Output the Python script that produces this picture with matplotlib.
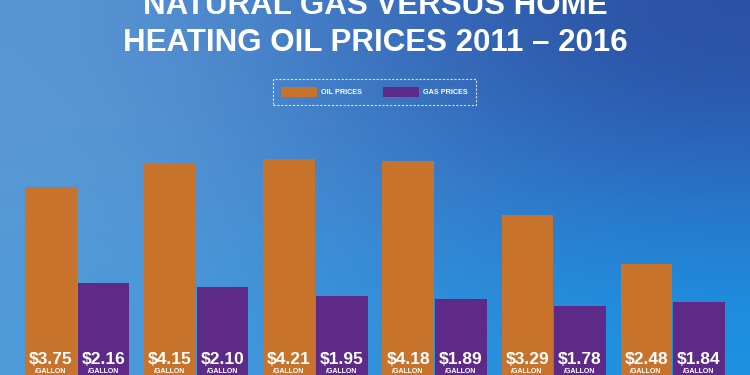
import matplotlib
matplotlib.use("Agg")
import matplotlib.pyplot as plt
import matplotlib.transforms as mtransforms
from matplotlib.patches import Patch
import numpy as np

years = ["2011", "2012", "2013", "2014", "2015", "2016"]
oil_prices = [3.75, 4.15, 4.21, 4.18, 3.29, 2.48]
gas_prices = [2.16, 2.10, 1.95, 1.89, 1.78, 1.84]
oil_labels = ["$3.75", "$4.15", "$4.21", "$4.18", "$3.29", "$2.48"]
gas_labels = ["$2.16", "$2.10", "$1.95", "$1.89", "$1.78", "$1.84"]
unit_label = "/GALLON"
title_lines = ["NATURAL GAS VERSUS HOME", "HEATING OIL PRICES 2011 \u2013 2016"]
legend_labels = ["OIL PRICES", "GAS PRICES"]

OIL = "#c8732b"
GAS = "#5e2a88"
FONT = ["Liberation Sans", "DejaVu Sans"]

fig = plt.figure(figsize=(7.5, 3.75), dpi=100)

# background gradient
bg = fig.add_axes([0, 0, 1, 1], zorder=0)
grid_hex = [["#5a96d4", "#3b72c0", "#2a4fa2"],
            ["#5a9ad6", "#3c82cc", "#2a70c6"],
            ["#509bd9", "#3090dc", "#1c92e2"]]
grid = np.array([[matplotlib.colors.to_rgb(c) for c in row] for row in grid_hex])
bg.imshow(grid, extent=[0, 1, 0, 1], aspect="auto", interpolation="bicubic",
          origin="upper")
bg.set_xlim(0, 1)
bg.set_ylim(0, 1)
bg.axis("off")

ax = fig.add_axes([0, 0, 1, 1], zorder=1)
ax.patch.set_alpha(0)
x = np.arange(len(years))
w = 0.43
off = 0.222
ax.bar(x - off, oil_prices, width=w, color=OIL, linewidth=0)
ax.bar(x + off, gas_prices, width=w, color=GAS, linewidth=0)
ax.set_xlim(-0.651, 5.651)
ax.set_ylim(0.64, 6.84)
ax.axis("off")

trans = mtransforms.blended_transform_factory(ax.transData, ax.transAxes)
for i in range(len(years)):
    for xc, lab in ((x[i] - off, oil_labels[i]), (x[i] + off, gas_labels[i])):
        ax.text(xc, 0.04, lab, transform=trans, ha="center", va="center",
                color="white", fontsize=12.5, fontweight="bold", family=FONT)
        ax.text(xc, 0.019, unit_label, transform=trans, ha="center", va="top",
                color="white", fontsize=5, fontweight="bold", family=FONT)

# title
fig.text(0.5, 1 - 6 / 375, title_lines[0], ha="center", va="center",
         color="white", fontsize=22.5, fontweight="bold", family=FONT)
fig.text(0.5, 1 - 43 / 375, title_lines[1], ha="center", va="center",
         color="white", fontsize=22.5, fontweight="bold", family=FONT)

handles = [Patch(facecolor=OIL, edgecolor="none"), Patch(facecolor=GAS, edgecolor="none")]
leg = fig.legend(handles, legend_labels, loc="center", bbox_to_anchor=(0.4993, 1 - 92 / 375),
                 ncol=2, frameon=True, prop={"family": FONT, "size": 5.2, "weight": "bold"},
                 handlelength=5.0, handleheight=1.6, handletextpad=0.6,
                 columnspacing=2.8, borderpad=1.15, borderaxespad=0, fancybox=False,
                 labelcolor="white")
fr = leg.get_frame()
fr.set_facecolor("none")
fr.set_edgecolor((1, 1, 1, 0.55))
fr.set_linestyle((0, (2, 1.5)))
fr.set_linewidth(0.8)

fig.savefig("out.png", dpi=100)
